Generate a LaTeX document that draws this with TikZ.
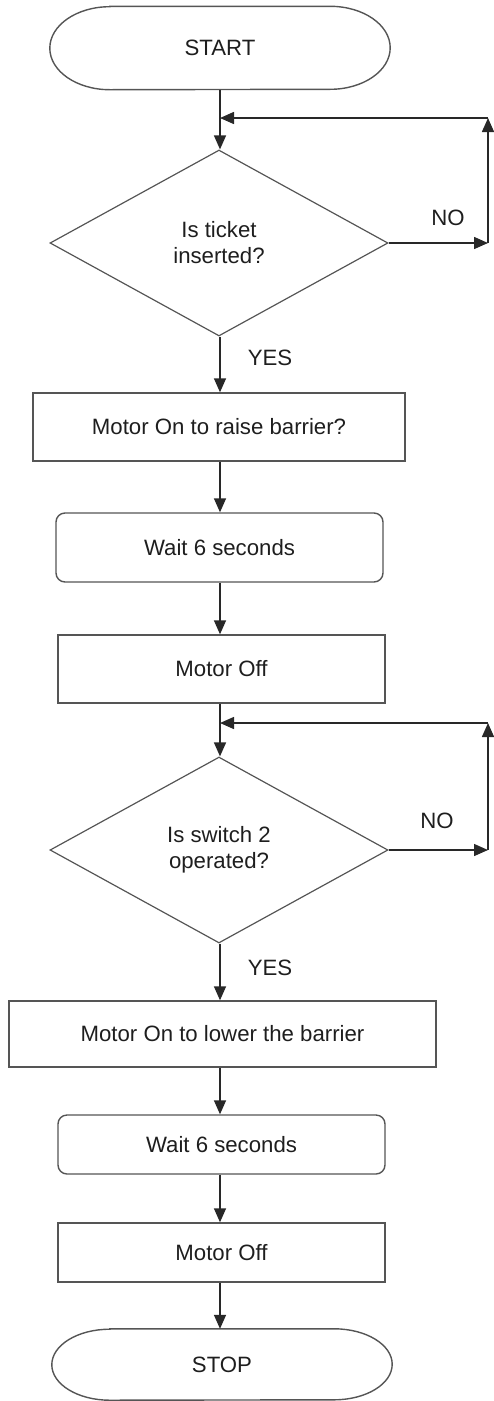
\documentclass[tikz,border=0pt]{standalone}
\usepackage{fontspec}
\setmainfont{Liberation Sans}
\usetikzlibrary{arrows.meta, shapes.geometric}
\definecolor{linecolor}{RGB}{40,40,40}
\definecolor{edgecolor}{RGB}{85,85,85}
\definecolor{textcolor}{RGB}{30,30,30}
\tikzset{
  term/.style     = {minimum width=340pt, inner sep=0pt, text=textcolor},
  termline/.style = {draw=edgecolor, line width=1.4pt},
  procbox/.style  = {draw=edgecolor, line width=1.4pt, minimum width=327pt,
                     inner sep=0pt, text=textcolor},
  waitbox/.style  = {procbox, rounded corners=9pt},
  decision/.style = {diamond, aspect=1.8, draw=edgecolor, line width=1.2pt,
                     minimum width=338pt, minimum height=186pt, inner sep=0pt,
                     align=center, text=textcolor},
  arrow/.style    = {-{Triangle[length=14pt, width=12pt]}, line width=1.5pt, color=linecolor},
  lbl/.style      = {text=textcolor},
}

\begin{document}
\begin{tikzpicture}[x=1pt, y=-1pt, every node/.style={font=\fontsize{22.2}{26}\selectfont}]
  \useasboundingbox (0,0) rectangle (494,1401);

  % terminals
  \node[term, minimum height=83pt] (start) at (220,48) {START};
  \node[term, minimum height=71pt] (stop) at (222,1364.5) {STOP};
  \draw[termline] ([xshift=60pt]start.north west) -- ([xshift=-60pt]start.north east)
    arc[start angle=90, end angle=-90, x radius=60pt, y radius=41.5pt]
    -- ([xshift=60pt]start.south west)
    arc[start angle=270, end angle=90, x radius=60pt, y radius=41.5pt] -- cycle;
  \draw[termline] ([xshift=58pt]stop.north west) -- ([xshift=-58pt]stop.north east)
    arc[start angle=90, end angle=-90, x radius=58pt, y radius=35.5pt]
    -- ([xshift=58pt]stop.south west)
    arc[start angle=270, end angle=90, x radius=58pt, y radius=35.5pt] -- cycle;

  % decisions
  \node[decision] (ticket) at (219,243) {Is ticket\\inserted?};
  \node[decision] (switch) at (219,850) {Is switch 2\\operated?};

  % process steps
  \node[procbox, minimum width=372pt, minimum height=68pt] (raise) at (219,427) {Motor On to raise barrier?};
  \node[waitbox, minimum height=69pt] (wait1) at (219.5,547.5) {Wait 6 seconds};
  \node[procbox, minimum height=68pt] (off1) at (221.5,669) {Motor Off};
  \node[procbox, minimum width=427pt, minimum height=66pt] (lower) at (222.5,1034) {Motor On to lower the barrier};
  \node[waitbox, minimum height=59pt] (wait2) at (221.5,1144.5) {Wait 6 seconds};
  \node[procbox, minimum height=59pt] (off2) at (221.5,1252.5) {Motor Off};

  % loop corners
  \coordinate (tktr) at (488,243);
  \coordinate (tkttop) at (488,118);
  \coordinate (tktj) at (220,118);
  \coordinate (swr) at (488,850);
  \coordinate (swtop) at (488,723);
  \coordinate (swj) at (220,723);

  % main flow
  \draw[arrow] (start.south -| tktj) -- (ticket.north -| tktj);
  \draw[arrow] (ticket.south -| tktj) -- (raise.north -| tktj);
  \draw[arrow] (raise.south -| tktj) -- (wait1.north -| tktj);
  \draw[arrow] (wait1.south -| tktj) -- (off1.north -| tktj);
  \draw[arrow] (off1.south -| swj) -- (switch.north -| swj);
  \draw[arrow] (switch.south -| swj) -- (lower.north -| swj);
  \draw[arrow] (lower.south -| swj) -- (wait2.north -| swj);
  \draw[arrow] (wait2.south -| swj) -- (off2.north -| swj);
  \draw[arrow] (off2.south -| swj) -- (stop.north -| swj);

  % NO loops
  \draw[arrow] (ticket.east) -- (tktr);
  \draw[arrow] (tktr) -- (tkttop);
  \draw[arrow] (tkttop) -- (tktj);
  \draw[arrow] (switch.east) -- (swr);
  \draw[arrow] (swr) -- (swtop);
  \draw[arrow] (swtop) -- (swj);

  % branch labels
  \node[lbl] (no1) at (448,218) {NO};
  \node[lbl] (yes1) at (270,358) {YES};
  \node[lbl] (no2) at (437,821) {NO};
  \node[lbl] (yes2) at (270,968) {YES};
\end{tikzpicture}
\end{document}
